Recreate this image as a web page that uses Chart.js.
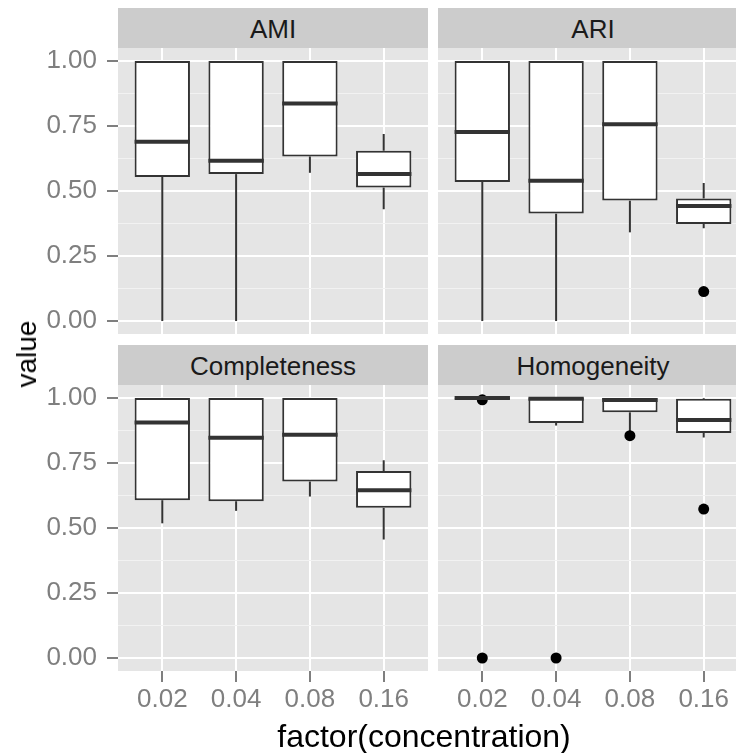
<!DOCTYPE html>
<html>
<head>
<meta charset="utf-8">
<script src="https://cdn.jsdelivr.net/npm/chart.js@4.4.0/dist/chart.umd.min.js"></script>
<style>
  html, body { margin: 0; padding: 0; background: #ffffff; }
  #page {
    position: relative; width: 736px; height: 753px; overflow: hidden;
    font-family: "Liberation Sans", Arial, sans-serif;
  }
  #page canvas { position: absolute; }
  .strip {
    position: absolute; width: 310px; height: 40px; line-height: 40px;
    background: #cccccc; color: #1a1a1a; font-size: 26px; text-align: center;
    padding-top: 1px; box-sizing: border-box;
  }
  .axis-title { position: absolute; color: #000000; white-space: nowrap; line-height: 1; }
  #ytitle { left: 27px; top: 354px; font-size: 28px; transform: translate(-50%, -50%) rotate(-90deg); }
  #xtitle { left: 424px; top: 720px; font-size: 32px; transform: translateX(-50%); }
</style>
</head>
<body>
<div id="page">
  <div class="strip" style="left:118px; top:8px;">AMI</div>
  <div class="strip" style="left:438px; top:8px;">ARI</div>
  <div class="strip" style="left:118px; top:345px;">Completeness</div>
  <div class="strip" style="left:438px; top:345px;">Homogeneity</div>
  <canvas id="ami" width="428" height="286" style="left:0px; top:48px;"></canvas>
  <canvas id="ari" width="310" height="286" style="left:438px; top:48px;"></canvas>
  <canvas id="completeness" width="428" height="336" style="left:0px; top:385px;"></canvas>
  <canvas id="homogeneity" width="310" height="336" style="left:438px; top:385px;"></canvas>
  <div class="axis-title" id="ytitle">value</div>
  <div class="axis-title" id="xtitle">factor(concentration)</div>
</div>
<script>
const concentrations = ['0.02', '0.04', '0.08', '0.16'];
const majorTicks = [0, 0.25, 0.5, 0.75, 1];
const minorTicks = [0.125, 0.375, 0.625, 0.875];

// AMI
const amiLower  = [0.000, 0.000, 0.570, 0.430];
const amiQ1     = [0.554, 0.565, 0.633, 0.513];
const amiMedian = [0.689, 0.616, 0.837, 0.565];
const amiQ3     = [1.000, 1.000, 1.000, 0.655];
const amiUpper  = [1.000, 1.000, 1.000, 0.719];
const amiOutliers = [];

// ARI
const ariLower  = [0.000, 0.000, 0.341, 0.357];
const ariQ1     = [0.535, 0.413, 0.463, 0.373];
const ariMedian = [0.727, 0.539, 0.757, 0.442];
const ariQ3     = [1.000, 1.000, 1.000, 0.471];
const ariUpper  = [1.000, 1.000, 1.000, 0.531];
const ariOutliers = [[3, 0.113]];

// Completeness
const compLower  = [0.518, 0.566, 0.621, 0.456];
const compQ1     = [0.607, 0.603, 0.679, 0.578];
const compMedian = [0.906, 0.847, 0.859, 0.645];
const compQ3     = [1.000, 1.000, 1.000, 0.719];
const compUpper  = [1.000, 1.000, 1.000, 0.761];
const compOutliers = [];

// Homogeneity
const homLower  = [0.996, 0.894, 0.871, 0.848];
const homQ1     = [0.996, 0.904, 0.945, 0.865];
const homMedian = [1.000, 0.997, 0.992, 0.915];
const homQ3     = [1.000, 1.000, 1.000, 0.997];
const homUpper  = [1.000, 1.000, 1.000, 1.000];
const homOutliers = [[0, 0.993], [0, 0.000], [1, 0.000], [2, 0.855], [3, 0.573]];

const FONT = '"Liberation Sans", Arial, sans-serif';
const LINE = '#333333';

const isMajor = v => majorTicks.some(m => Math.abs(m - v) < 1e-9);

// keep the panel area fixed: no extra room for overhanging tick labels
function noPadding(s) {
  s.paddingTop = 0;
  s.paddingBottom = 0;
  s.paddingLeft = 0;
  s.paddingRight = 0;
}

// grey panel background, whiskers under the boxes, medians on top
const boxPlugin = {
  id: 'boxStats',
  beforeDraw(chart) {
    const { ctx, chartArea: a } = chart;
    ctx.save();
    ctx.fillStyle = '#e5e5e5';
    ctx.fillRect(a.left, a.top, a.width, a.height);
    ctx.restore();
  },
  beforeDatasetsDraw(chart, args, opts) {
    const { ctx } = chart;
    const y = chart.scales.y;
    const boxes = chart.getDatasetMeta(1).data;
    ctx.save();
    ctx.strokeStyle = LINE;
    ctx.lineWidth = 2;
    boxes.forEach((bar, i) => {
      const x = bar.getProps(['x'], true).x;
      ctx.beginPath();
      ctx.moveTo(x, y.getPixelForValue(opts.upper[i]));
      ctx.lineTo(x, y.getPixelForValue(opts.q3[i]));
      ctx.moveTo(x, y.getPixelForValue(opts.q1[i]));
      ctx.lineTo(x, y.getPixelForValue(opts.lower[i]));
      ctx.stroke();
    });
    ctx.restore();
  },
  afterDatasetsDraw(chart, args, opts) {
    const { ctx } = chart;
    const y = chart.scales.y;
    const boxes = chart.getDatasetMeta(1).data;
    ctx.save();
    ctx.strokeStyle = LINE;
    ctx.lineWidth = 4;
    boxes.forEach((bar, i) => {
      const { x, width } = bar.getProps(['x', 'width'], true);
      const py = y.getPixelForValue(opts.median[i]);
      ctx.beginPath();
      ctx.moveTo(x - width / 2, py);
      ctx.lineTo(x + width / 2, py);
      ctx.stroke();
    });
    ctx.restore();
  }
};

function makePanel(id, lower, q1, median, q3, upper, outliers, showY, showX) {
  const tickFont = { family: FONT, size: 26, lineHeight: 1 };
  new Chart(document.getElementById(id), {
    type: 'bar',
    data: {
      datasets: [
        {
          type: 'scatter',
          data: outliers.map(o => ({ x: o[0] + 1, y: o[1] })),
          pointRadius: 5.5,
          pointBackgroundColor: '#000000',
          pointBorderWidth: 0,
          order: 2
        },
        {
          type: 'bar',
          data: concentrations.map((c, i) => ({ x: i + 1, y: [q1[i], q3[i]] })),
          backgroundColor: '#ffffff',
          borderColor: LINE,
          borderWidth: 2,
          borderSkipped: false,
          categoryPercentage: 1,
          barPercentage: 0.75,
          order: 1
        }
      ]
    },
    options: {
      responsive: false,
      animation: false,
      events: [],
      layout: { padding: 0, autoPadding: false },
      plugins: {
        legend: { display: false },
        tooltip: { enabled: false },
        boxStats: { lower, q1, median, q3, upper }
      },
      scales: {
        x: {
          type: 'linear',
          min: 0.4,
          max: 4.6,
          offset: false,
          afterBuildTicks: s => { s.ticks = concentrations.map((c, i) => ({ value: i + 1 })); },
          afterFit: s => { s.height = showX ? 50 : 0; noPadding(s); },
          ticks: {
            display: showX,
            autoSkip: false,
            maxRotation: 0,
            padding: 5,
            color: '#7f7f7f',
            font: tickFont,
            callback: v => concentrations[v - 1]
          },
          grid: {
            offset: false,
            color: '#ffffff',
            lineWidth: 2,
            drawTicks: showX,
            tickLength: 11,
            tickWidth: 2,
            tickColor: '#7f7f7f'
          },
          border: { display: false }
        },
        y: {
          type: 'linear',
          min: -0.05,
          max: 1.05,
          afterBuildTicks: s => {
            s.ticks = majorTicks.concat(minorTicks).sort((a, b) => a - b).map(v => ({ value: v }));
          },
          afterFit: s => { s.width = showY ? 118 : 0; noPadding(s); },
          ticks: {
            display: showY,
            autoSkip: false,
            padding: 10,
            color: '#7f7f7f',
            font: tickFont,
            callback: v => isMajor(v) ? v.toFixed(2) : ''
          },
          grid: {
            color: c => isMajor(c.tick.value) ? '#ffffff' : '#f2f2f2',
            lineWidth: c => isMajor(c.tick.value) ? 2 : 1,
            drawTicks: showY,
            tickLength: 11,
            tickWidth: 2,
            tickColor: c => isMajor(c.tick.value) ? '#7f7f7f' : 'rgba(0,0,0,0)'
          },
          border: { display: false }
        }
      }
    },
    plugins: [boxPlugin]
  });
}

makePanel('ami', amiLower, amiQ1, amiMedian, amiQ3, amiUpper, amiOutliers, true, false);
makePanel('ari', ariLower, ariQ1, ariMedian, ariQ3, ariUpper, ariOutliers, false, false);
makePanel('completeness', compLower, compQ1, compMedian, compQ3, compUpper, compOutliers, true, true);
makePanel('homogeneity', homLower, homQ1, homMedian, homQ3, homUpper, homOutliers, false, true);
</script>
</body>
</html>
